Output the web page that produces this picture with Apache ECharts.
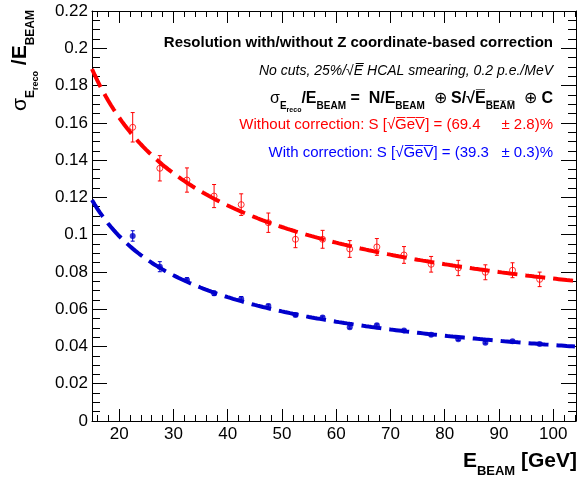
<!DOCTYPE html>
<html>
<head>
<meta charset="utf-8">
<script src="https://cdn.jsdelivr.net/npm/echarts@6/dist/echarts.min.js"></script>
<style>
  html, body { margin: 0; padding: 0; background: #fff; }
  #chart { width: 582px; height: 480px; }
</style>
</head>
<body>
<div id="chart"></div>
<script>
// Beam energies of the measured points (GeV)
const beamEnergy = [22.5, 27.5, 32.5, 37.5, 42.5, 47.5, 52.5, 57.5, 62.5, 67.5, 72.5, 77.5, 82.5, 87.5, 92.5, 97.5];

// Relative resolution without the Z-coordinate correction, with its uncertainty
const resNoCorr    = [0.1576, 0.1356, 0.1293, 0.1207, 0.1161, 0.1064, 0.0975, 0.0975, 0.0923, 0.0934, 0.0891, 0.0841, 0.0821, 0.0798, 0.0809, 0.0760];
const resNoCorrErr = [0.0079, 0.0068, 0.0065, 0.0062, 0.0058, 0.0052, 0.0045, 0.0048, 0.0045, 0.0045, 0.0045, 0.0042, 0.0041, 0.0040, 0.0040, 0.0039];

// Relative resolution with the Z-coordinate correction, with its uncertainty
const resCorr    = [0.0993, 0.0828, 0.0757, 0.0685, 0.0655, 0.0617, 0.0569, 0.0555, 0.0503, 0.0514, 0.0485, 0.0463, 0.0438, 0.0420, 0.0428, 0.0413];
const resCorrErr = [0.0028, 0.0027, 0.0012, 0.0012, 0.0013, 0.0010, 0.0009, 0.0008, 0.0008, 0.0007, 0.0007, 0.0007, 0.0006, 0.0006, 0.0006, 0.0005];

// Fit parameters of sigma/E = N/E (+) S/sqrt(E) (+) C
const fitNoCorr = { N: 0.765, S: 0.694, C: 0.0311 };
const fitCorr   = { N: 0.916, S: 0.393, C: 0.0058 };

// Axis ranges and tick labels
const xRange = [15, 104.2];
const xTickLabels = [20, 30, 40, 50, 60, 70, 80, 90, 100];
const yTickLabels = [0, 0.02, 0.04, 0.06, 0.08, 0.1, 0.12, 0.14, 0.16, 0.18, 0.2, 0.22];

const RED = '#ff0000';
const BLUE_LINE = '#0000cc';
const BLUE_TEXT = '#0000ff';
const FONT = "'Liberation Sans', Arial, sans-serif";

// Minor x ticks every 2 GeV
const xMinorTicks = [];
for (let v = 16; v <= xRange[1]; v += 2) xMinorTicks.push(v);

// Resolution function curve sampled across the x range
function fitCurve(p) {
  const pts = [];
  for (let e = xRange[0]; e <= xRange[1] + 1e-9; e += 0.5) {
    const a = p.N / e, b = p.S / Math.sqrt(e);
    pts.push([e, Math.sqrt(a * a + b * b + p.C * p.C)]);
  }
  return pts;
}

// Adds a combining overline to every character (radical bar)
const over = s => s.split('').map(c => c + '\u0305').join('');

function errorBars(values, errs, color) {
  return {
    type: 'custom',
    z: 3,
    data: beamEnergy.map((e, i) => [e, values[i], errs[i]]),
    encode: { x: 0, y: 1 },
    renderItem(params, api) {
      const x = api.value(0), y = api.value(1), err = api.value(2);
      const hi = api.coord([x, y + err]);
      const lo = api.coord([x, y - err]);
      const cap = 2;
      const st = { stroke: color, lineWidth: 1 };
      return {
        type: 'group',
        children: [
          { type: 'line', shape: { x1: hi[0], y1: hi[1], x2: lo[0], y2: lo[1] }, style: st },
          { type: 'line', shape: { x1: hi[0] - cap, y1: hi[1], x2: hi[0] + cap, y2: hi[1] }, style: st },
          { type: 'line', shape: { x1: lo[0] - cap, y1: lo[1], x2: lo[0] + cap, y2: lo[1] }, style: st }
        ]
      };
    }
  };
}

function xAxisDef(position, major, showLine, showLabel) {
  return {
    type: 'value',
    position: position,
    min: xRange[0],
    max: xRange[1],
    splitLine: { show: false },
    axisLine: { show: showLine, onZero: false, lineStyle: { color: '#000', width: 1 } },
    axisTick: {
      show: true, inside: true, length: major ? 12 : 6,
      customValues: major ? xTickLabels : xMinorTicks,
      lineStyle: { color: '#000', width: 1 }
    },
    axisLabel: {
      show: showLabel, customValues: xTickLabels, margin: 5,
      color: '#000', fontSize: 17, fontFamily: FONT
    }
  };
}

function yAxisDef(position, showLabel) {
  return {
    type: 'value',
    position: position,
    min: 0,
    max: 0.22,
    interval: 0.02,
    splitLine: { show: false },
    axisLine: { show: true, onZero: false, lineStyle: { color: '#000', width: 1 } },
    axisTick: { show: true, inside: true, length: 15, lineStyle: { color: '#000', width: 1 } },
    minorTick: { show: true, splitNumber: 4, length: 8, lineStyle: { color: '#000', width: 1 } },
    axisLabel: {
      show: showLabel, margin: 4, color: '#000', fontSize: 17, fontFamily: FONT,
      customValues: yTickLabels
    }
  };
}

// Rich text pieces: main, subscript and second-level subscript
function richSet(size, weight, color, style, subScale) {
  const k = subScale || 0.68;
  return {
    m:  { fontSize: size, fontWeight: weight, fontStyle: style, fill: color, color: color, fontFamily: FONT, verticalAlign: 'bottom', padding: [0, 0, Math.round(size * 0.45), 0] },
    s:  { fontSize: Math.round(size * k), fontWeight: weight, fill: color, color: color, fontFamily: FONT, verticalAlign: 'bottom', padding: [0, 0, Math.round(size * 0.12), 0] },
    ss: { fontSize: Math.round(size * 0.42), fontWeight: weight, fill: color, color: color, fontFamily: FONT, verticalAlign: 'bottom', padding: [0, 0, 0, 0] },
    g:  { fontSize: size, fontWeight: 'normal', fill: color, color: color, fontFamily: FONT, verticalAlign: 'bottom', padding: [0, 0, Math.round(size * 0.45), 0] },
    o:  { fontSize: size, fontWeight: 'normal', fill: color, color: color, fontFamily: FONT, verticalAlign: 'bottom', padding: [0, 0, Math.round(size * 0.45), 0] }
  };
}

function label(x, y, text, rich, extra) {
  return Object.assign({
    type: 'text', x: x, y: y, z: 10,
    style: {
      text: text, rich: rich,
      align: 'right', textAlign: 'right',
      verticalAlign: 'middle', textVerticalAlign: 'middle'
    }
  }, extra || {});
}

const chart = echarts.init(document.getElementById('chart'), null, { renderer: 'canvas' });

chart.setOption({
  animation: false,
  backgroundColor: '#fff',
  grid: { left: 92, right: 6, top: 11, bottom: 59, containLabel: false },
  xAxis: [
    xAxisDef('bottom', true, true, true),
    xAxisDef('bottom', false, false, false),
    xAxisDef('top', true, true, false),
    xAxisDef('top', false, false, false)
  ],
  yAxis: [
    yAxisDef('left', true),
    yAxisDef('right', false)
  ],
  series: [
    {
      type: 'line', name: 'fit without correction', data: fitCurve(fitNoCorr),
      showSymbol: false, symbol: 'none', smooth: false, z: 2,
      lineStyle: { color: RED, width: 4, type: [20, 8] }
    },
    {
      type: 'line', name: 'fit with correction', data: fitCurve(fitCorr),
      showSymbol: false, symbol: 'none', smooth: false, z: 2,
      lineStyle: { color: BLUE_LINE, width: 4, type: [20, 8] }
    },
    errorBars(resNoCorr, resNoCorrErr, RED),
    errorBars(resCorr, resCorrErr, BLUE_LINE),
    {
      type: 'scatter', name: 'without correction', z: 4,
      data: beamEnergy.map((e, i) => [e, resNoCorr[i]]),
      symbol: 'circle', symbolSize: 6,
      itemStyle: { color: 'rgba(255,255,255,0)', borderColor: RED, borderWidth: 1 }
    },
    {
      type: 'scatter', name: 'with correction', z: 4,
      data: beamEnergy.map((e, i) => [e, resCorr[i]]),
      symbol: 'circle', symbolSize: 6,
      itemStyle: { color: BLUE_LINE }
    }
  ],
  graphic: [
    label(553, 46, '{m|Resolution with/without Z coordinate-based correction}', richSet(15, 'bold', '#000', 'normal')),
    label(553, 74, '{m|No cuts, 25%/√' + over('E') + ' HCAL smearing, 0.2 p.e./MeV}', richSet(14, 'normal', '#000', 'italic')),
    label(553, 102,
      '{g|σ}{s|E}{ss|reco}{m|/E}{s|BEAM}{m| =  N/E}{s|BEAM}{o|  ⊕ }{m|S/√' + over('E') + '}{s|' + over('BEAM') + '}{o|  ⊕ }{m|C}',
      richSet(16, 'bold', '#000', 'normal', 0.62)),
    label(553, 128, '{m|Without correction: S [√' + over('GeV') + '] = (69.4     ± 2.8)%}', richSet(15, 'normal', RED, 'normal')),
    label(553, 156, '{m|With correction: S [√' + over('GeV') + '] = (39.3   ± 0.3)%}', richSet(15, 'normal', BLUE_TEXT, 'normal')),
    // x-axis title
    label(577, 466, '{m|E}{s|BEAM}{m| [GeV]}', richSet(21, 'bold', '#000', 'normal', 0.6)),
    // y-axis title (rotated)
    label(25, 10, '{g|σ}{s|E}{ss|reco}{m| /E}{s|BEAM}', richSet(21, 'bold', '#000', 'normal', 0.55),
      { rotation: Math.PI / 2 })
  ]
});
</script>
</body>
</html>
